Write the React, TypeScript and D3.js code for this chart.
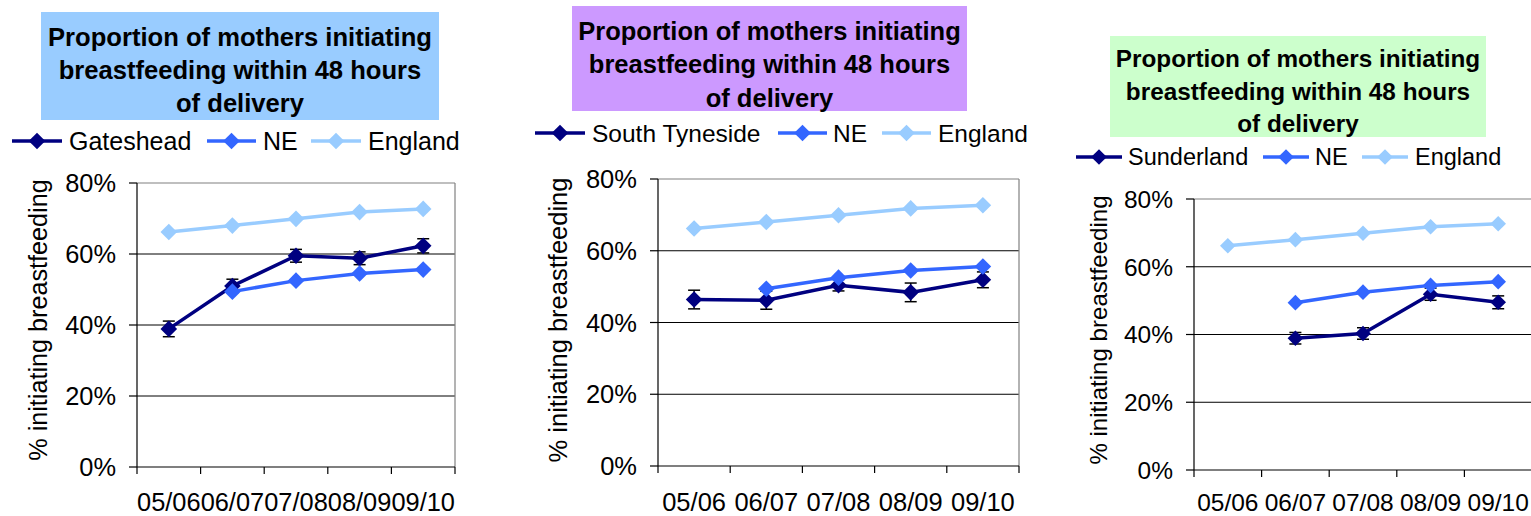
import React from "react";
import * as d3 from "d3";

const categories = ["05/06", "06/07", "07/08", "08/09", "09/10"];
const yTicks = [0, 20, 40, 60, 80];
const titleLines = ["Proportion of mothers initiating", "breastfeeding within 48 hours", "of delivery"];
const yAxisLabel = "% initiating breastfeeding";

const gatesheadValues: (number | null)[] = [38.9, 51.0, 59.5, 58.8, 62.3];
const gatesheadErrors: (number | null)[] = [2.2, 1.9, 1.8, 1.8, 2.0];
const southTynesideValues: (number | null)[] = [46.4, 46.2, 50.4, 48.4, 51.9];
const southTynesideErrors: (number | null)[] = [2.6, 2.5, 1.6, 2.6, 2.2];
const sunderlandValues: (number | null)[] = [null, 38.9, 40.3, 51.9, 49.5];
const sunderlandErrors: (number | null)[] = [null, 1.7, 1.7, 1.8, 1.9];
const neValues: (number | null)[] = [null, 49.4, 52.5, 54.5, 55.6];
const englandValues: (number | null)[] = [66.2, 68.0, 69.9, 71.8, 72.7];

const localNames = ["Gateshead", "South Tyneside", "Sunderland"];

const COLORS = { local: "#000080", ne: "#3366FF", england: "#99CCFF" };
const FONT = "'Liberation Sans', Arial, Helvetica, sans-serif";

type Layout = {
  plot: { left: number; right: number; top: number; bottom: number };
  title: { x: number; y: number; w: number; h: number; fill: string; baselines: number[]; size: number };
  legend: { lineY: number; textY: number; items: { x0: number; x1: number; tx: number }[]; size: number };
  yLabel: { x: number; y: number; size: number };
  yTickRight: number;
  xLabelY: number;
  tickSize: number;
  marker: number;
};

const layouts: Layout[] = [
  {
    plot: { left: 137, right: 455, top: 183, bottom: 467 },
    title: { x: 41, y: 12, w: 398, h: 108, fill: "#99CCFF", baselines: [46, 79, 112], size: 25.6 },
    legend: { lineY: 141, textY: 149.5, items: [{ x0: 12, x1: 62, tx: 69 }, { x0: 207, x1: 256, tx: 263 }, { x0: 311, x1: 361, tx: 368 }], size: 25 },
    yLabel: { x: 47, y: 320, size: 25.2 },
    yTickRight: 116,
    xLabelY: 510.5,
    tickSize: 25.4,
    marker: 8.3,
  },
  {
    plot: { left: 658, right: 1019, top: 179, bottom: 466 },
    title: { x: 572, y: 6, w: 395, h: 105, fill: "#CC99FF", baselines: [39.5, 73, 107], size: 25.5 },
    legend: { lineY: 133, textY: 141.5, items: [{ x0: 535, x1: 585, tx: 592 }, { x0: 778, x1: 827, tx: 833 }, { x0: 882, x1: 931, tx: 938 }], size: 24.5 },
    yLabel: { x: 567, y: 320, size: 25.5 },
    yTickRight: 637,
    xLabelY: 510.5,
    tickSize: 25.5,
    marker: 8.3,
  },
  {
    plot: { left: 1194, right: 1532, top: 199, bottom: 470 },
    title: { x: 1110, y: 36, w: 376, h: 101, fill: "#CCFFCC", baselines: [67, 99.5, 131.5], size: 24.3 },
    legend: { lineY: 157, textY: 165, items: [{ x0: 1076, x1: 1122, tx: 1128 }, { x0: 1263, x1: 1309, tx: 1315 }, { x0: 1362, x1: 1408, tx: 1415 }], size: 23.5 },
    yLabel: { x: 1107, y: 330, size: 24.1 },
    yTickRight: 1173,
    xLabelY: 510.5,
    tickSize: 24.5,
    marker: 7.8,
  },
];

const localSeries = [
  { values: gatesheadValues, errors: gatesheadErrors },
  { values: southTynesideValues, errors: southTynesideErrors },
  { values: sunderlandValues, errors: sunderlandErrors },
];

function diamond(cx: number, cy: number, r: number) {
  return `M${cx},${cy - r}L${cx + r},${cy}L${cx},${cy + r}L${cx - r},${cy}Z`;
}

function Panel({ idx }: { idx: number }) {
  const L = layouts[idx];
  const { plot } = L;
  const x = d3.scaleBand<string>().domain(categories).range([plot.left, plot.right]).padding(0);
  const y = d3.scaleLinear().domain([0, 80]).range([plot.bottom, plot.top]);
  const cx = (i: number) => (x(categories[i]) as number) + x.bandwidth() / 2;

  const series = [
    { name: localNames[idx], values: localSeries[idx].values, errors: localSeries[idx].errors, color: COLORS.local },
    { name: "NE", values: neValues, errors: null as (number | null)[] | null, color: COLORS.ne },
    { name: "England", values: englandValues, errors: null as (number | null)[] | null, color: COLORS.england },
  ];

  const line = d3
    .line<number | null>()
    .defined((d) => d != null)
    .x((_, i) => cx(i))
    .y((d) => y(d as number));

  const boundaries = categories.map((c) => x(c) as number).concat([plot.right]);

  return (
    <g>
      {/* title */}
      <rect x={L.title.x} y={L.title.y} width={L.title.w} height={L.title.h} fill={L.title.fill} />
      {titleLines.map((t, i) => (
        <text key={i} x={L.title.x + L.title.w / 2} y={L.title.baselines[i]} textAnchor="middle" fontWeight="bold" fontSize={L.title.size} fontFamily={FONT} fill="#000">
          {t}
        </text>
      ))}
      {/* legend */}
      {series.map((s, i) => {
        const it = L.legend.items[i];
        return (
          <g key={i}>
            <line x1={it.x0} x2={it.x1} y1={L.legend.lineY} y2={L.legend.lineY} stroke={s.color} strokeWidth={3.5} />
            <path d={diamond((it.x0 + it.x1) / 2, L.legend.lineY, L.marker)} fill={s.color} />
            <text x={it.tx} y={L.legend.textY} fontSize={L.legend.size} fontFamily={FONT} fill="#000">
              {s.name}
            </text>
          </g>
        );
      })}
      {/* gridlines */}
      {yTicks.filter((t) => t > 0 && t < 80).map((t) => (
        <line key={t} x1={plot.left} x2={plot.right} y1={y(t)} y2={y(t)} stroke="#000" strokeWidth={1} />
      ))}
      {/* plot border top/right */}
      <line x1={plot.left} x2={plot.right} y1={y(80)} y2={y(80)} stroke="#808080" strokeWidth={1.2} />
      <line x1={plot.right} x2={plot.right} y1={y(80)} y2={y(0)} stroke="#808080" strokeWidth={1.2} />
      {/* axes */}
      <line x1={plot.left} x2={plot.left} y1={y(80)} y2={y(0)} stroke="#000" strokeWidth={1.2} />
      <line x1={plot.left} x2={plot.right} y1={y(0)} y2={y(0)} stroke="#000" strokeWidth={1.2} />
      {yTicks.map((t) => (
        <g key={t}>
          <line x1={plot.left - 8} x2={plot.left} y1={y(t)} y2={y(t)} stroke="#000" strokeWidth={1.2} />
          <text x={L.yTickRight} y={y(t) + L.tickSize * 0.36} textAnchor="end" fontSize={L.tickSize} fontFamily={FONT} fill="#000">
            {t}%
          </text>
        </g>
      ))}
      {boundaries.map((b, i) => (
        <line key={i} x1={b} x2={b} y1={plot.bottom} y2={plot.bottom + 7} stroke="#000" strokeWidth={1.2} />
      ))}
      {categories.map((c, i) => (
        <text key={c} x={cx(i)} y={L.xLabelY} textAnchor="middle" fontSize={L.tickSize} fontFamily={FONT} fill="#000">
          {c}
        </text>
      ))}
      <text transform={`translate(${L.yLabel.x},${L.yLabel.y}) rotate(-90)`} textAnchor="middle" fontSize={L.yLabel.size} fontFamily={FONT} fill="#000">
        {yAxisLabel}
      </text>
      {/* series */}
      {series.map((s, si) => (
        <g key={si}>
          <path d={line(s.values) || ""} fill="none" stroke={s.color} strokeWidth={3.5} />
          {s.errors &&
            s.values.map((v, i) => {
              const e = s.errors![i];
              if (v == null || e == null) return null;
              const px = cx(i);
              return (
                <g key={"e" + i} stroke="#000" strokeWidth={1.5}>
                  <line x1={px} x2={px} y1={y(v - e)} y2={y(v + e)} />
                  <line x1={px - 6} x2={px + 6} y1={y(v - e)} y2={y(v - e)} />
                  <line x1={px - 6} x2={px + 6} y1={y(v + e)} y2={y(v + e)} />
                </g>
              );
            })}
          {s.values.map((v, i) => (v == null ? null : <path key={"m" + i} d={diamond(cx(i), y(v), L.marker)} fill={s.color} />))}
        </g>
      ))}
    </g>
  );
}

export default function App() {
  return (
    <svg width={1531} height={516} style={{ position: "absolute", left: 0, top: 0, background: "#fff" }}>
      <rect x={0} y={0} width={1531} height={516} fill="#fff" />
      {[0, 1, 2].map((i) => (
        <Panel key={i} idx={i} />
      ))}
    </svg>
  );
}
